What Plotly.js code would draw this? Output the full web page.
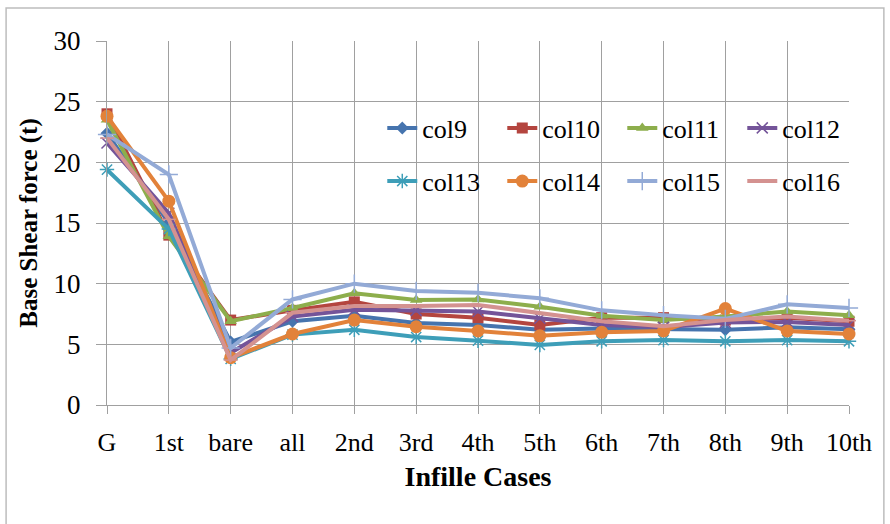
<!DOCTYPE html>
<html>
<head>
<meta charset="utf-8">
<script src="https://cdn.plot.ly/plotly-3.0.1.min.js"></script>
<style>html,body{margin:0;padding:0;background:#fff;}#chart{width:890px;height:524px;}</style>
</head>
<body>
<div id="chart"></div>
<script>
const categories = ['G','1st','bare','all','2nd','3rd','4th','5th','6th','7th','8th','9th','10th'];
const col9  = [22.4, 15.0, 5.2, 6.9, 7.35, 6.75, 6.6, 6.2, 6.3, 6.25, 6.2, 6.4, 6.25];
const col10 = [24.0, 14.0, 7.0, 7.8, 8.5, 7.5, 7.2, 6.6, 7.2, 7.2, 7.0, 7.2, 6.9];
const col11 = [23.5, 13.9, 6.9, 8.0, 9.2, 8.65, 8.7, 8.1, 7.35, 7.0, 7.3, 7.7, 7.4];
const col12 = [21.6, 15.8, 4.3, 7.3, 7.85, 7.8, 7.7, 7.15, 6.6, 6.4, 6.8, 6.85, 6.6];
const col13 = [19.4, 14.5, 3.8, 5.8, 6.2, 5.6, 5.3, 4.95, 5.25, 5.35, 5.25, 5.35, 5.25];
const col14 = [23.8, 16.8, 3.9, 5.85, 7.0, 6.45, 6.1, 5.7, 6.0, 6.1, 7.95, 6.1, 5.85];
const col15 = [22.3, 19.0, 4.7, 8.7, 10.0, 9.4, 9.25, 8.8, 7.8, 7.4, 7.1, 8.3, 8.0];
const col16 = [22.0, 15.3, 3.7, 7.6, 8.15, 8.15, 8.25, 7.55, 6.9, 6.5, 7.0, 7.3, 6.95];

const seriesNames = ['col9','col10','col11','col12','col13','col14','col15','col16'];
const seriesData = [col9, col10, col11, col12, col13, col14, col15, col16];
const colors = ['#4674AE','#B4453F','#8DAE4C','#745499','#3E9EB8','#E2823A','#93AAD6','#D49290'];
const symbols = ['diamond','square','triangle-up','x-thin-open','asterisk-open','circle','cross-thin-open','line-ew-open'];
const sizes = [10, 11, 11, 11, 12, 13, 13, 10];

const serif = 'Liberation Serif';

const traces = seriesData.map((vals, i) => {
  const thin = symbols[i].indexOf('open') >= 0;
  return {
    type: 'scatter',
    mode: 'lines+markers',
    name: seriesNames[i],
    x: categories,
    y: vals,
    cliponaxis: false,
    legend: i < 4 ? 'legend' : 'legend2',
    line: {color: colors[i], width: 4},
    marker: {
      symbol: symbols[i],
      size: sizes[i],
      color: colors[i],
      line: {color: colors[i], width: thin ? 1.5 : 0}
    }
  };
});

function legendCfg(y) {
  return {
    orientation: 'h',
    xanchor: 'left',
    yanchor: 'middle',
    x: 0.371,
    y: y,
    entrywidth: 75,
    font: {family: serif, size: 26, color: '#000000'},
    bgcolor: 'rgba(0,0,0,0)',
    itemwidth: 30,
    traceorder: 'normal'
  };
}

const layout = {
  width: 890,
  height: 524,
  margin: {l: 107, r: 41, t: 41, b: 119},
  paper_bgcolor: '#fff',
  plot_bgcolor: '#fff',
  font: {family: serif, size: 26, color: '#000'},
  showlegend: true,
  legend: legendCfg(0.761),
  legend2: legendCfg(0.615),
  xaxis: {
    type: 'category',
    range: [0, 12],
    showgrid: true,
    gridcolor: '#A0A0A0',
    gridwidth: 1,
    showline: true,
    linecolor: '#A0A0A0',
    linewidth: 1,
    ticks: 'outside',
    ticklen: 8,
    tickcolor: '#A0A0A0',
    ticklabelstandoff: 6,
    tickfont: {family: serif, size: 26, color: '#000'},
    title: {text: '<b>Infille Cases</b>', font: {family: serif, size: 28, color: '#000'}, standoff: 10},
    zeroline: false,
    fixedrange: true
  },
  yaxis: {
    range: [0, 30],
    dtick: 5,
    tick0: 0,
    showgrid: true,
    gridcolor: '#A0A0A0',
    gridwidth: 1,
    showline: true,
    linecolor: '#A0A0A0',
    linewidth: 1,
    ticks: 'outside',
    ticklen: 10,
    tickcolor: '#A0A0A0',
    ticklabelstandoff: 10,
    tickfont: {family: serif, size: 27, color: '#000'},
    title: {text: '<b>Base Shear force (t)</b>', font: {family: serif, size: 25, color: '#000'}, standoff: 8},
    zeroline: false,
    fixedrange: true
  },
  shapes: [{
    type: 'rect', xref: 'paper', yref: 'paper',
    x0: -0.136, x1: 1.047, y0: -0.33, y1: 1.0907,
    line: {color: '#BDBDBD', width: 1.5},
    fillcolor: 'rgba(0,0,0,0)',
    layer: 'below'
  }]
};

Plotly.newPlot('chart', traces, layout, {displayModeBar: false, staticPlot: true});
</script>
</body>
</html>
